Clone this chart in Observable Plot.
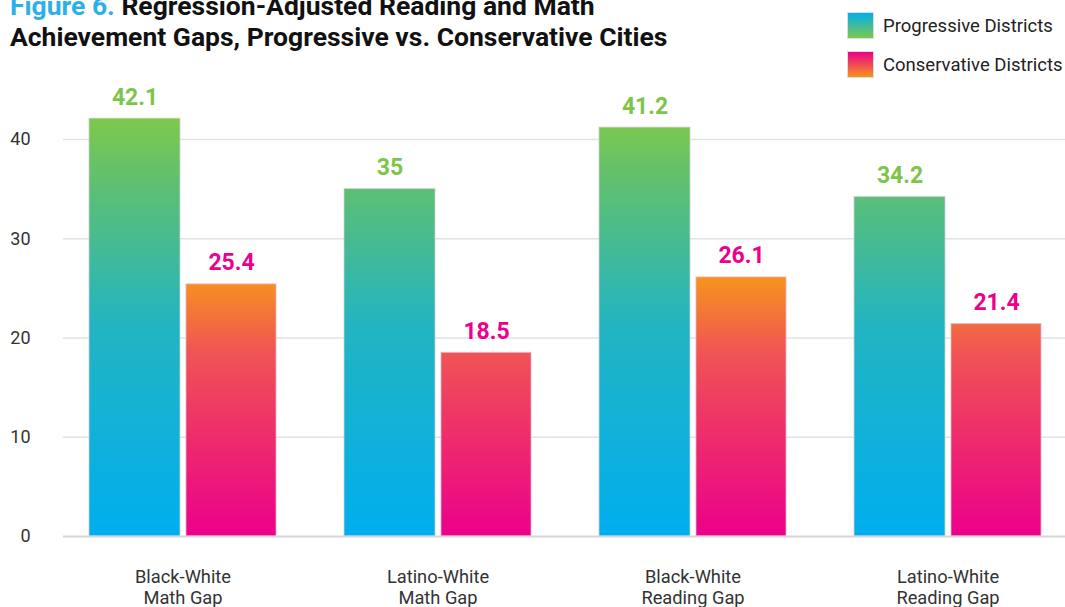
<!DOCTYPE html>
<html><head><meta charset="utf-8">
<script src="https://cdn.jsdelivr.net/npm/d3@7"></script>
<script src="https://cdn.jsdelivr.net/npm/@observablehq/plot@0.6"></script>
<style>
body{margin:0;background:#fff;font-family:Roboto,sans-serif;}
#wrap{position:relative;width:1065px;height:607px;overflow:hidden;}
#chart{position:absolute;left:0;top:0;}
#title{position:absolute;left:10px;top:-10.5px;font-family:Roboto;font-weight:bold;font-size:26.5px;line-height:31px;color:#111;white-space:nowrap;}
#title .fig{color:#2cb0e6;}
#legend{position:absolute;left:847px;top:12px;font-family:Roboto;font-size:18.5px;color:#222;}
.item{display:flex;align-items:center;height:27px;margin-bottom:12px;}
.sw{width:27px;height:27px;box-sizing:border-box;border:1px solid #ddd;margin-right:9px;flex:none;}
</style></head><body>
<div id="wrap">
<div id="chart"></div>
<div id="title"><span class="fig">Figure 6.</span> Regression-Adjusted Reading and Math<br>Achievement Gaps, Progressive vs. Conservative Cities</div>
<div id="legend"></div>
</div>
<script>
const categories = ["Black-White\nMath Gap","Latino-White\nMath Gap","Black-White\nReading Gap","Latino-White\nReading Gap"];
const seriesNames = ["Progressive Districts","Conservative Districts"];
const progressive = [42.1, 35, 41.2, 34.2];
const conservative = [25.4, 18.5, 26.1, 21.4];
const yTicks = [0, 10, 20, 30, 40];
const progColors = ["#00aeef", "#7ec84a"];
const consColors = ["#ec008c", "#f7941d"];
const progLabelColor = "#7dc54a";
const consLabelColor = "#ec008c";

const progData = categories.map((c, i) => ({group: c, value: progressive[i]}));
const consData = categories.map((c, i) => ({group: c, value: conservative[i]}));

const plot = Plot.plot({
  width: 1065, height: 607,
  marginTop: 0, marginLeft: 63, marginRight: 0, marginBottom: 71,
  style: {fontFamily: "Roboto", background: "transparent", color: "#333"},
  x: {domain: categories, range: [54.5, 1074.5], paddingInner: 0.2667, paddingOuter: 0.1333, axis: null},
  y: {domain: [0, 40], range: [536, 139], axis: null},
  marks: [
    Plot.ruleY(yTicks.filter(d => d > 0), {stroke: "#e2e2e2", strokeWidth: 1.5}),
    Plot.axisY({ticks: yTicks, tickSize: 0, tickPadding: 33, fontSize: 18, fill: "#333", label: null}),
    Plot.barY(progData, {x: "group", y: "value", insetRight: 96, fill: "url(#gradP)", stroke: "#cfcfcf", strokeOpacity: 0.8, strokeWidth: 1}),
    Plot.barY(consData, {x: "group", y: "value", insetLeft: 97, fill: "url(#gradC)", stroke: "#e8b0c8", strokeOpacity: 0.8, strokeWidth: 1}),
    Plot.ruleY([0], {stroke: "#d6d6d6", strokeWidth: 2}),
    Plot.text(progData, {x: "group", y: "value", text: d => String(d.value), dx: -48, dy: -14, lineAnchor: "bottom", fill: progLabelColor, fontWeight: "bold", fontSize: 23}),
    Plot.text(consData, {x: "group", y: "value", text: d => String(d.value), dx: 48.5, dy: -14, lineAnchor: "bottom", fill: consLabelColor, fontWeight: "bold", fontSize: 23}),
    Plot.axisX({anchor: "bottom", tickSize: 0, tickPadding: 31, fontSize: 18.3, lineHeight: 1.18, fill: "#333", label: null})
  ]
});

// gradient definitions in user space, tied to the y scale
const y = plot.scale("y");
const y0 = y.apply(0);
const ns = "http://www.w3.org/2000/svg";
const defs = document.createElementNS(ns, "defs");
function grad(id, stops, top) {
  const g = document.createElementNS(ns, "linearGradient");
  g.setAttribute("id", id);
  g.setAttribute("gradientUnits", "userSpaceOnUse");
  g.setAttribute("x1", 0); g.setAttribute("x2", 0);
  g.setAttribute("y1", y0); g.setAttribute("y2", y.apply(top));
  for (const [o, c] of stops) {
    const s = document.createElementNS(ns, "stop");
    s.setAttribute("offset", o); s.setAttribute("stop-color", c);
    g.appendChild(s);
  }
  defs.appendChild(g);
}
grad("gradP", [[0, progColors[0]], [0.5, "#22b4c2"], [0.83, "#5cbf74"], [1, progColors[1]]], 42.1);
grad("gradC", [[0, consColors[0]], [0.38, "#ee2c6c"], [0.71, "#f05454"], [1, consColors[1]]], 26.1);
plot.insertBefore(defs, plot.firstChild);
document.getElementById("chart").appendChild(plot);

// legend
const legend = document.getElementById("legend");
[[seriesNames[0], progColors], [seriesNames[1], consColors]].forEach(([name, cols]) => {
  const item = document.createElement("div"); item.className = "item";
  const sw = document.createElement("div"); sw.className = "sw";
  sw.style.background = `linear-gradient(to bottom, ${cols[0]}, ${cols[1]})`;
  const t = document.createElement("span"); t.textContent = name;
  item.appendChild(sw); item.appendChild(t); legend.appendChild(item);
});
</script>
</body></html>
